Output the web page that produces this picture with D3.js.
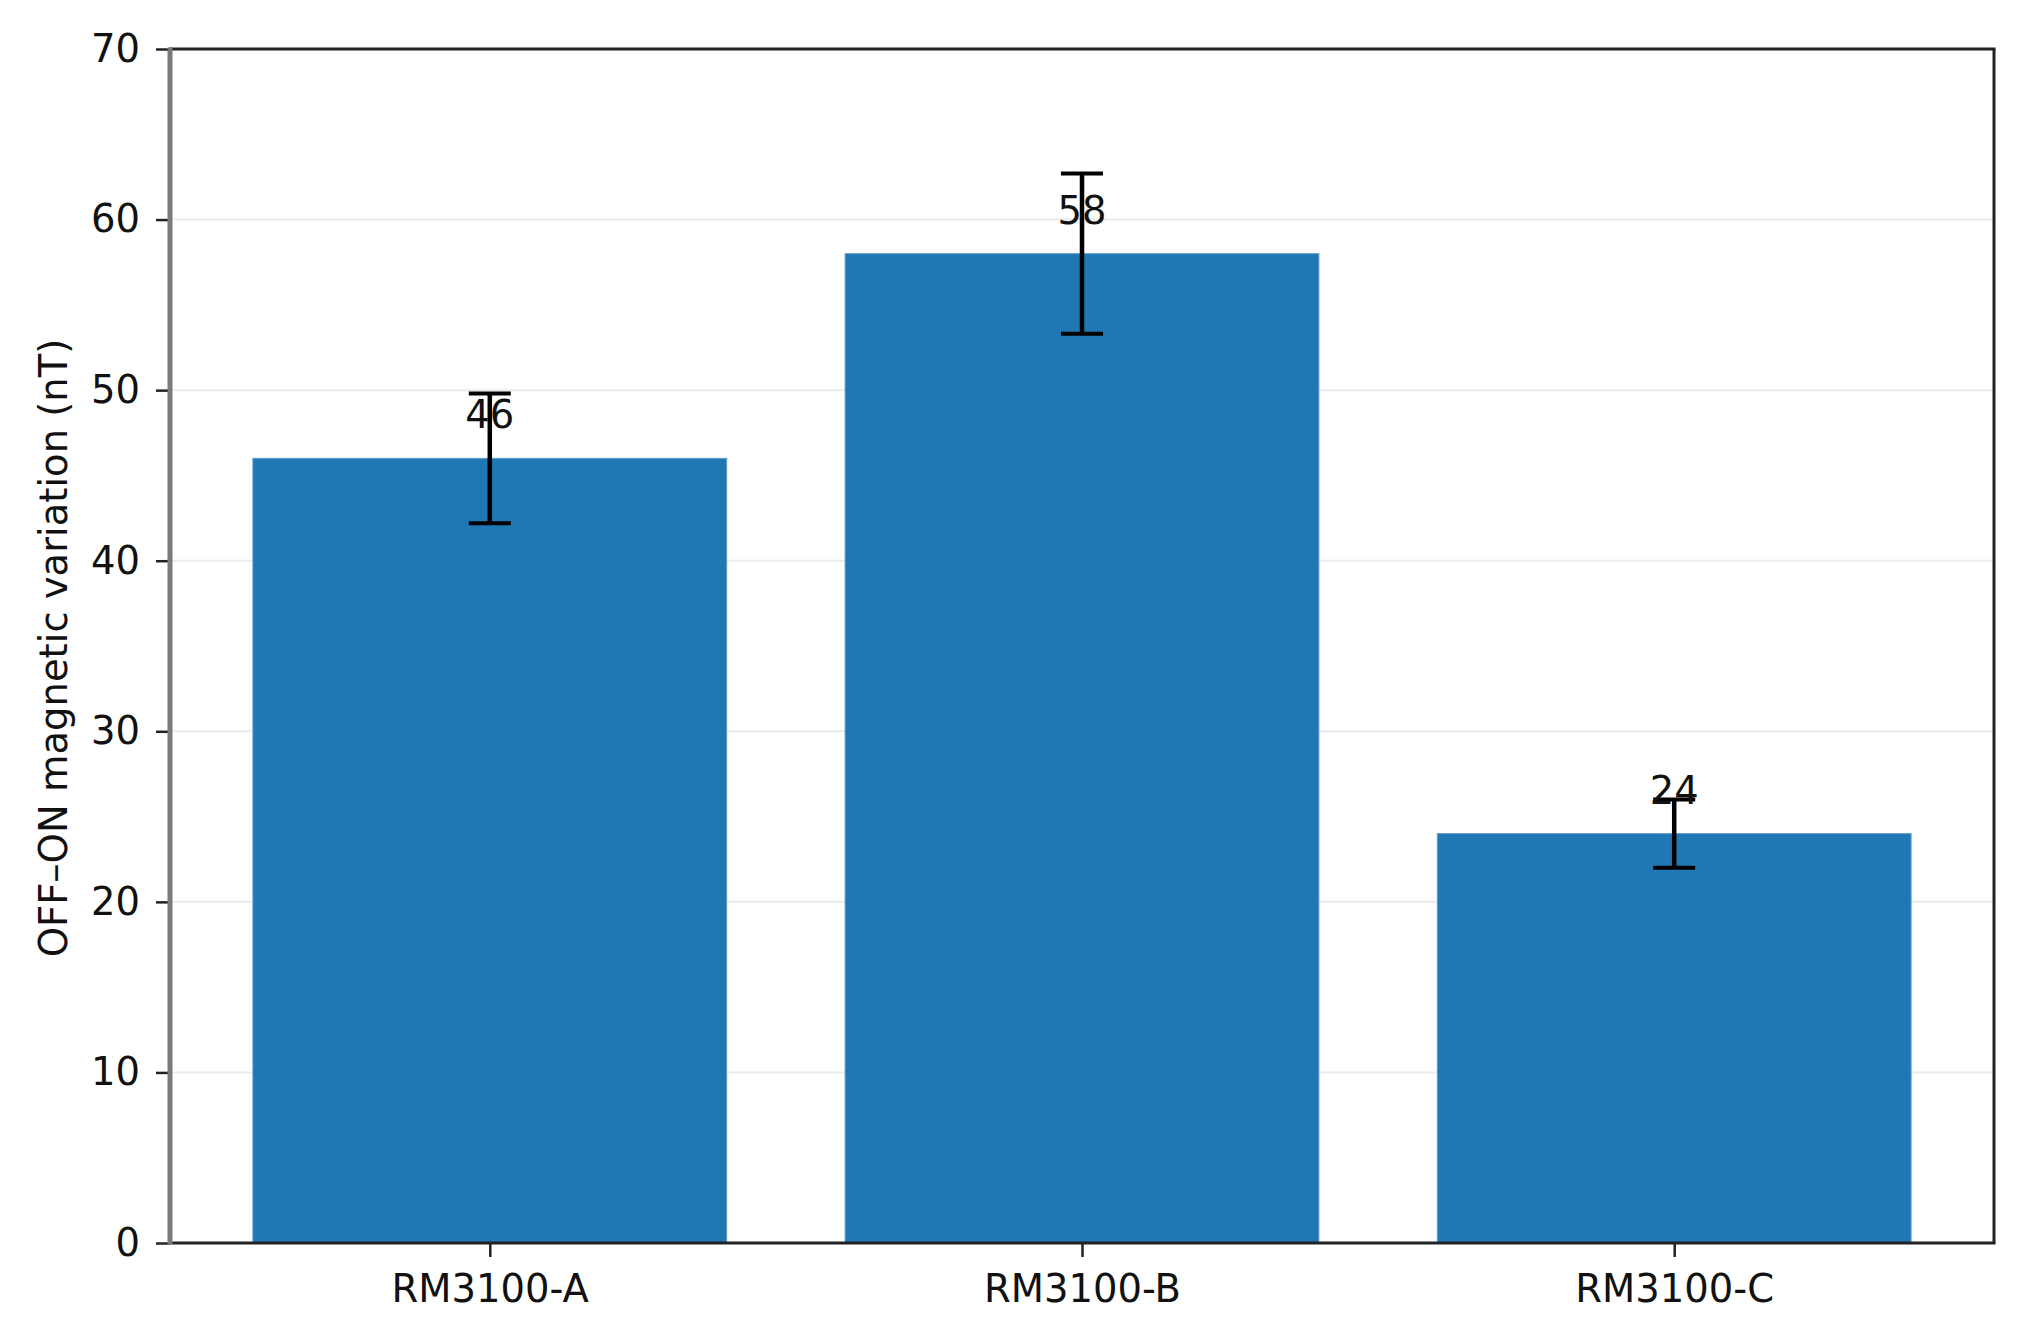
<!DOCTYPE html>
<html>
<head>
<meta charset="utf-8">
<script src="https://cdn.jsdelivr.net/npm/d3@7"></script>
<style>
  body { margin: 0; background: #fff; }
  svg { display: block; }
</style>
</head>
<body>
<div id="viz"></div>
<script>
const sensors = ["RM3100-A", "RM3100-B", "RM3100-C"];
const variation = [46, 58, 24];
const errors = [3.8, 4.7, 2.0];
const yTicks = [0, 10, 20, 30, 40, 50, 60, 70];
const yLabel = "OFF\u2013ON magnetic variation (nT)";

document.addEventListener("DOMContentLoaded", () => {

    const width = 2019;
    const height = 1335;
    const left = 170, right = 1994, top = 49, bottom = 1243;
    const font = "'DejaVu Sans', sans-serif";
    const fs = 38.5;

    const svg = d3.select("#viz").append("svg")
        .attr("width", width)
        .attr("height", height)
        .style("font-family", font);

    const x = d3.scaleLinear().domain([-0.54, 2.54]).range([left, right]);
    const y = d3.scaleLinear().domain([0, 70]).range([bottom, top]);
    const barW = x(0.8) - x(0);

    // grid behind bars
    svg.append("g")
        .selectAll("line")
        .data(yTicks.filter(t => t > 0 && t < 70))
        .enter()
        .append("line")
        .attr("x1", left).attr("x2", right)
        .attr("y1", d => y(d)).attr("y2", d => y(d))
        .attr("stroke", "#ebebeb")
        .attr("stroke-width", 2);

    const rows = sensors.map((s, i) => ({ s, i, v: variation[i], e: errors[i] }));

    svg.append("g")
        .selectAll("rect")
        .data(rows)
        .enter()
        .append("rect")
        .attr("x", d => x(d.i) - barW / 2)
        .attr("y", d => y(d.v))
        .attr("width", barW)
        .attr("height", d => y(0) - y(d.v))
        .attr("fill", "#1f77b4")
        .attr("stroke", "#5b9bcb")
        .attr("stroke-width", 1);

    // error bars
    const eb = svg.append("g")
        .selectAll("g")
        .data(rows)
        .enter()
        .append("g")
        .attr("stroke", "#000");

    eb.append("line")
        .attr("x1", d => x(d.i)).attr("x2", d => x(d.i))
        .attr("y1", d => y(d.v - d.e)).attr("y2", d => y(d.v + d.e))
        .attr("stroke-width", 4.5);

    [-1, 1].forEach(sign => {
        eb.append("line")
            .attr("x1", d => x(d.i) - 21).attr("x2", d => x(d.i) + 21)
            .attr("y1", d => y(d.v + sign * d.e)).attr("y2", d => y(d.v + sign * d.e))
            .attr("stroke-width", 4);
    });

    // value labels
    svg.append("g")
        .selectAll("text")
        .data(rows)
        .enter()
        .append("text")
        .attr("x", d => x(d.i))
        .attr("y", d => y(d.v + 1) - 13)
        .attr("text-anchor", "middle")
        .attr("font-size", fs)
        .attr("fill", "#111")
        .text(d => d.v);

    // axes
    const yAxis = svg.append("g")
        .attr("transform", `translate(${left},0)`)
        .call(d3.axisLeft(y).tickValues(yTicks).tickSize(14).tickPadding(16));

    const xAxis = svg.append("g")
        .attr("transform", `translate(0,${bottom})`)
        .call(d3.axisBottom(x).tickValues([0, 1, 2]).tickFormat(i => sensors[i]).tickSize(14).tickPadding(18));

    [yAxis, xAxis].forEach(a => {
        a.select(".domain").remove();
        a.selectAll(".tick line").attr("stroke", "#222").attr("stroke-width", 2.5);
        a.selectAll(".tick text")
            .attr("font-family", font)
            .attr("font-size", fs)
            .attr("fill", "#111");
    });

    // spines
    svg.append("line")
        .attr("x1", left - 1).attr("x2", right + 1.5)
        .attr("y1", top).attr("y2", top)
        .attr("stroke", "#222").attr("stroke-width", 3);
    svg.append("line")
        .attr("x1", left - 1).attr("x2", right + 1.5)
        .attr("y1", bottom).attr("y2", bottom)
        .attr("stroke", "#222").attr("stroke-width", 3);
    svg.append("line")
        .attr("x1", right).attr("x2", right)
        .attr("y1", top).attr("y2", bottom)
        .attr("stroke", "#222").attr("stroke-width", 3);
    svg.append("line")
        .attr("x1", left).attr("x2", left)
        .attr("y1", top - 1.5).attr("y2", bottom + 1.5)
        .attr("stroke", "#7a7a7a").attr("stroke-width", 5);

    // y label
    svg.append("text")
        .attr("transform", `translate(67,${(top + bottom) / 2 + 2}) rotate(-90)`)
        .attr("text-anchor", "middle")
        .attr("font-size", fs)
        .attr("fill", "#111")
        .text(yLabel);
});
</script>
</body>
</html>
